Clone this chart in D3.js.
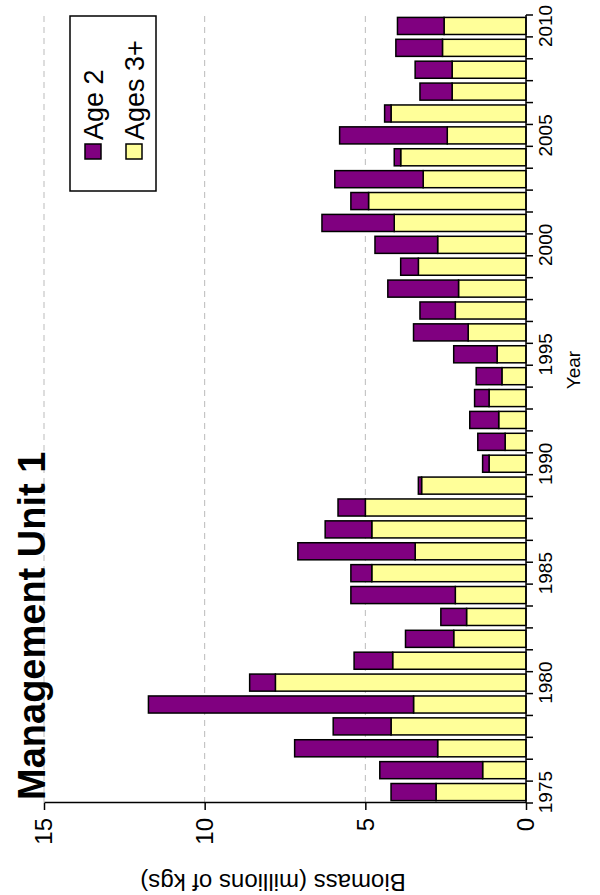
<!DOCTYPE html><html><head><meta charset="utf-8">
<script src="https://cdn.jsdelivr.net/npm/d3@7"></script>
<style>body{margin:0;background:#fff}</style></head><body>
<script>
const years = d3.range(1975, 2011);
const age3plus = [2.8,1.35,2.75,4.2,3.5,7.8,4.15,2.25,1.85,2.2,4.8,3.45,4.8,5.0,3.25,1.15,0.65,0.85,1.15,0.75,0.9,1.8,2.2,2.1,3.35,2.75,4.1,4.9,3.2,3.9,2.45,4.2,2.3,2.3,2.6,2.55];
const total    = [4.2,4.55,7.2,6.0,11.75,8.6,5.35,3.75,2.65,5.45,5.45,7.1,6.25,5.85,3.35,1.35,1.5,1.75,1.6,1.55,2.25,3.5,3.3,4.3,3.9,4.7,6.35,5.45,5.95,4.1,5.8,4.4,3.3,3.45,4.05,4.0];
const valueTicks = [0,5,10,15];
const yearTicks = [1975,1980,1985,1990,1995,2000,2005,2010];
const font = "Arial, 'Liberation Sans', sans-serif";
const svg = d3.select("body").append("svg").attr("width",600).attr("height",895);
const g = svg.append("g").attr("transform","translate(0,895) rotate(-90)");
const x = d3.scaleBand().domain(years).range([92,880]).paddingInner(0.22).paddingOuter(0.11);
const y = d3.scaleLinear().domain([0,15]).range([526,44]);
g.selectAll(".grid").data(valueTicks.slice(1)).join("line")
 .attr("x1",92).attr("x2",880).attr("y1",d=>y(d)).attr("y2",d=>y(d))
 .attr("stroke","#bbb").attr("stroke-dasharray","6,5");
const bw = x.bandwidth();
g.selectAll(".yb").data(years).join("rect")
 .attr("x",d=>x(d)).attr("width",bw).attr("y",(d,i)=>y(age3plus[i])).attr("height",(d,i)=>y(0)-y(age3plus[i]))
 .attr("fill","#ffff99").attr("stroke","#000").attr("stroke-width",1.5);
g.selectAll(".pb").data(years).join("rect")
 .attr("x",d=>x(d)).attr("width",bw).attr("y",(d,i)=>y(total[i])).attr("height",(d,i)=>y(age3plus[i])-y(total[i]))
 .attr("fill","#800080").attr("stroke","#000").attr("stroke-width",1.5);
const ya = g.append("g").attr("transform","translate(92,0)")
 .call(d3.axisLeft(y).tickValues(valueTicks).tickSize(7).tickSizeOuter(0).tickPadding(8));
ya.select(".domain").attr("stroke-width",1.5);
ya.selectAll(".tick line").attr("stroke-width",1.5);
ya.selectAll("text").attr("font-family",font).attr("font-size",24).attr("fill","#000");
const xa = g.append("g").attr("transform","translate(0,"+y(0)+")");
xa.append("line").attr("x1",92).attr("x2",880).attr("stroke","#000").attr("stroke-width",1.5);
const step = x.step();
const bounds = d3.range(years.length+1).map(i=>i===0?92:x(years[0]) - x.paddingInner()*step/2 + i*step);
xa.selectAll(".tk").data(bounds).join("line")
 .attr("x1",d=>d).attr("x2",d=>d).attr("y1",0).attr("y2",7).attr("stroke","#000").attr("stroke-width",1.5);
xa.selectAll(".yl").data(yearTicks).join("text")
 .attr("x",d=>x(d)+bw/2).attr("y",26).attr("text-anchor","middle")
 .attr("font-family",font).attr("font-size",19).text(d=>d);
g.append("text").attr("x",95).attr("y",45).attr("font-family",font)
 .attr("font-weight","bold").attr("font-size",38).text("Management Unit 1");
g.append("text").attr("transform","translate(21,273) rotate(-90)").attr("text-anchor","middle")
 .attr("font-family",font).attr("font-size",24).text("Biomass (millions of kgs)");
g.append("text").attr("x",525).attr("y",580).attr("text-anchor","middle")
 .attr("font-family",font).attr("font-size",19).text("Year");
const lg = g.append("g");
lg.append("rect").attr("x",704).attr("y",70).attr("width",175).attr("height",86).attr("fill","#fff").attr("stroke","#000").attr("stroke-width",1.5);
const items=[["Age 2","#800080"],["Ages 3+","#ffff99"]];
items.forEach((it,i)=>{
 const vy = 93 + i*41;
 lg.append("rect").attr("x",736).attr("y",vy-8).attr("width",15).attr("height",16).attr("fill",it[1]).attr("stroke","#000").attr("stroke-width",1.5);
 lg.append("text").attr("x",755).attr("y",vy+10).attr("font-family",font).attr("font-size",27).text(it[0]);
});
</script></body></html>
